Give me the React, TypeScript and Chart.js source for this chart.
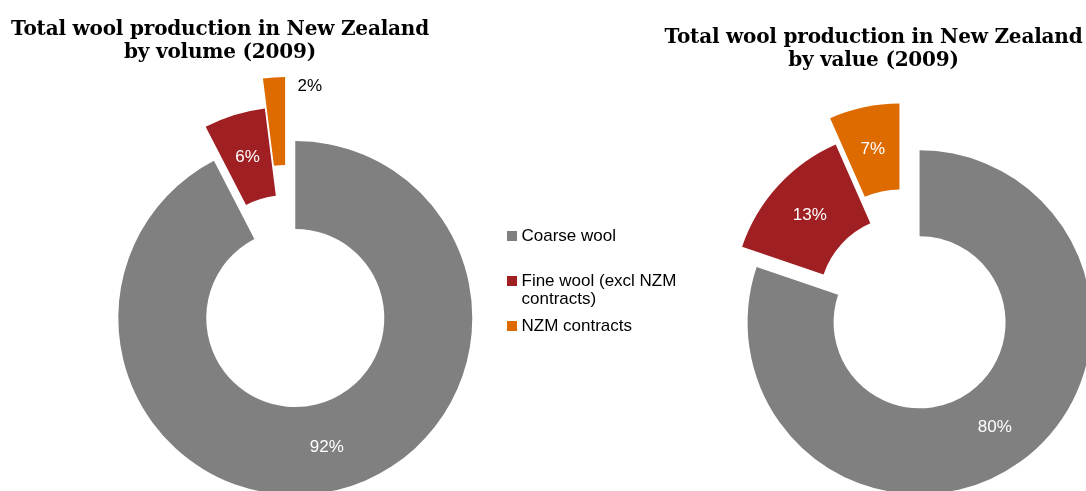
import React, { useEffect, useRef } from "react";
import { Chart, registerables } from "chart.js";

Chart.register(...registerables);

// ---------- data ----------
const categories = ["Coarse wool", "Fine wool (excl NZM contracts)", "NZM contracts"];
const volumeShares = [92.4, 5.6, 2.0];
const valueShares = [80.2, 13.2, 6.6];
const volumeTitle = ["Total wool production in New Zealand", "by volume (2009)"];
const valueTitle = ["Total wool production in New Zealand", "by value (2009)"];

// ---------- styles ----------
const COLORS = ["#808080", "#A01F22", "#DE6B00"];
const LABEL_FONT = "17px 'Liberation Sans', Arial, sans-serif";
const TITLE_FONT = "bold 20px 'DejaVu Serif', Georgia, serif";

// Explodes slices outward along their bisector (like Excel's point explosion)
const explodePlugin = {
  id: "explode",
  afterDatasetUpdate(_chart: any, args: any, opts: any) {
    const dist: number[] = (opts && opts.distances) || [];
    args.meta.data.forEach((arc: any, i: number) => {
      const d = dist[i] || 0;
      const mid = (arc.startAngle + arc.endAngle) / 2;
      arc.x += Math.cos(mid) * d;
      arc.y += Math.sin(mid) * d;
    });
  },
};

const sliceLabels = {
  id: "sliceLabels",
  afterDatasetsDraw(chart: any, _args: any, opts: any) {
    const meta = chart.getDatasetMeta(0);
    const data: number[] = chart.data.datasets[0].data;
    const total = data.reduce((a, b) => a + b, 0);
    const ctx: CanvasRenderingContext2D = chart.ctx;
    ctx.save();
    ctx.font = LABEL_FONT;
    meta.data.forEach((arc: any, i: number) => {
      const { x, y, startAngle, endAngle, innerRadius, outerRadius } = arc;
      const mid = (startAngle + endAngle) / 2;
      const text = Math.round((data[i] / total) * 100) + "%";
      const mode = (opts.modes && opts.modes[i]) || "inside";
      if (mode === "outside") {
        const px = x + Math.cos(mid) * outerRadius;
        const py = y + Math.sin(mid) * outerRadius;
        ctx.fillStyle = "#000000";
        ctx.textAlign = "left";
        ctx.textBaseline = "middle";
        ctx.fillText(text, px + opts.outsideDx, py + opts.outsideDy);
      } else {
        const r = (innerRadius + outerRadius) / 2;
        const px = x + Math.cos(mid) * r;
        const py = y + Math.sin(mid) * r;
        ctx.fillStyle = "#FFFFFF";
        ctx.textAlign = "center";
        ctx.textBaseline = "middle";
        ctx.fillText(text, px, py);
      }
    });
    ctx.restore();
  },
};

type DonutProps = {
  values: number[];
  radius: number;
  cutout: string;
  explode: number[];
  modes: string[];
  left: number;
  top: number;
  width: number;
  height: number;
};

function Donut(p: DonutProps) {
  const ref = useRef<HTMLCanvasElement | null>(null);
  useEffect(() => {
    if (!ref.current) return;
    const chart = new Chart(ref.current, {
      type: "doughnut",
      data: {
        labels: categories,
        datasets: [
          {
            data: p.values,
            backgroundColor: COLORS,
            borderWidth: 0,
            hoverOffset: 0,
            clip: false,
          } as any,
        ],
      },
      options: {
        responsive: false,
        animation: false,
        radius: p.radius,
        cutout: p.cutout,
        layout: { padding: 0 },
        events: [],
        plugins: {
          legend: { display: false },
          tooltip: { enabled: false },
          title: { display: false },
          explode: { distances: p.explode },
          sliceLabels: { modes: p.modes, outsideDx: 23.5, outsideDy: 8.5 },
        } as any,
      } as any,
      plugins: [explodePlugin, sliceLabels],
    });
    return () => chart.destroy();
  }, []);
  return (
    <canvas
      ref={ref}
      width={p.width}
      height={p.height}
      style={{ position: "absolute", left: p.left, top: p.top, width: p.width, height: p.height }}
    />
  );
}

function Title({ lines, left, top }: { lines: string[]; left: number; top: number }) {
  return (
    <div
      style={{
        position: "absolute",
        left,
        top,
        width: 440,
        textAlign: "center",
        font: TITLE_FONT,
        letterSpacing: "-0.2px",
        lineHeight: "23px",
        color: "#000",
        zIndex: 2,
        whiteSpace: "nowrap",
      }}
    >
      {lines.map((l, i) => (
        <div key={i}>{l}</div>
      ))}
    </div>
  );
}

const legendTops = [226.6, 271.6, 316.6];

function Legend() {
  return (
    <div style={{ position: "absolute", left: 0, top: 0, zIndex: 2 }}>
      {categories.map((c, i) => (
        <div key={i}>
          <div
            style={{
              position: "absolute",
              left: 507,
              top: legendTops[i] + 4,
              width: 10,
              height: 10,
              background: COLORS[i],
            }}
          />
          <div
            style={{
              position: "absolute",
              left: 521.5,
              top: legendTops[i],
              width: 170,
              font: "17px 'Liberation Sans', Arial, sans-serif",
              lineHeight: "18.5px",
              color: "#000",
            }}
          >
            {c}
          </div>
        </div>
      ))}
    </div>
  );
}

export default function App() {
  return (
    <div
      style={{
        position: "fixed",
        left: 0,
        top: 0,
        width: 1086,
        height: 491,
        overflow: "hidden",
        background: "#fff",
      }}
    >
      <Donut
        values={volumeShares}
        radius={177}
        cutout="50.3%"
        explode={[35, 0, 30]}
        modes={["inside", "inside", "outside"]}
        left={-1}
        top={-1}
        width={576}
        height={570}
      />
      <Donut
        values={valueShares}
        radius={172}
        cutout="50%"
        explode={[25, 0, 27]}
        modes={["inside", "inside", "inside"]}
        left={605}
        top={2}
        width={600}
        height={600}
      />
      <Title lines={volumeTitle} left={0} top={17} />
      <Title lines={valueTitle} left={653.5} top={25} />
      <Legend />
    </div>
  );
}
